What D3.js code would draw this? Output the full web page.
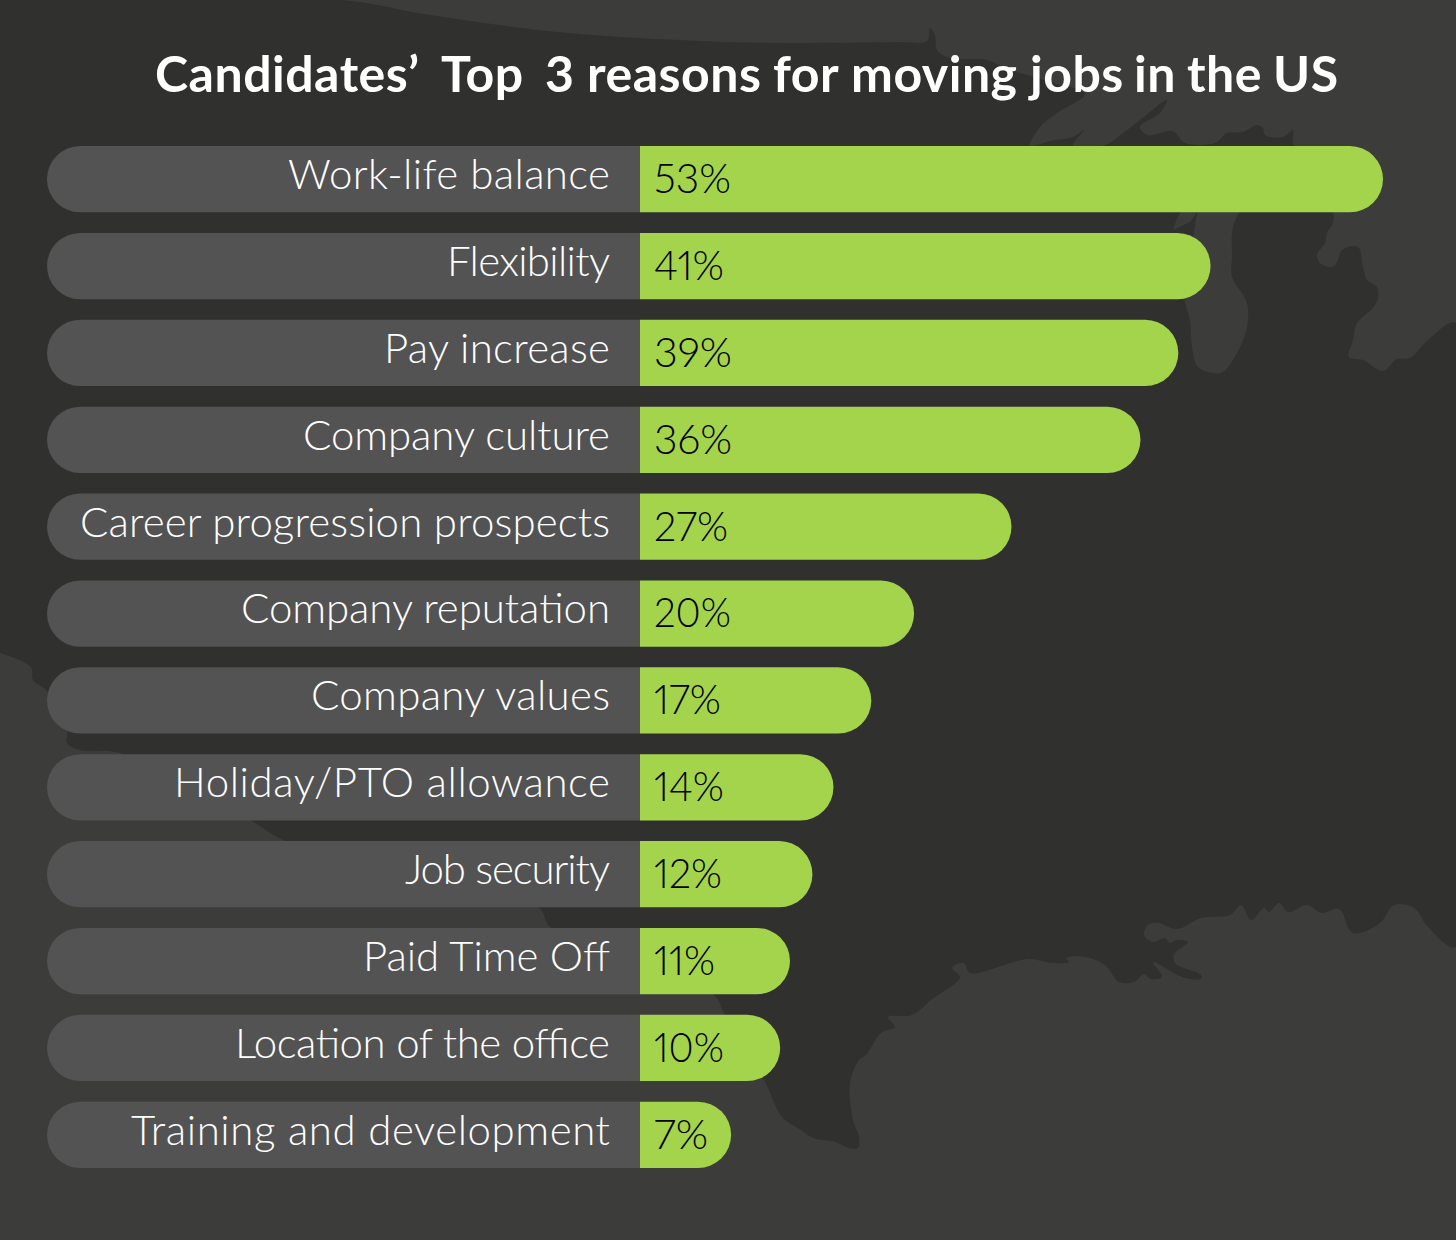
<!DOCTYPE html>
<html>
<head>
<meta charset="utf-8">
<style>
  body { margin: 0; background: #3c3c3b; }
  text { font-family: Lato, sans-serif; font-variant-numeric: proportional-nums; }
</style>
</head>
<body>
<div id="elm"></div>
<script src="https://d3js.org/d3.v7.min.js"></script>
<script>
'use strict';

var titleWords = ['Candidates’', 'Top', '3', 'reasons', 'for', 'moving', 'jobs', 'in', 'the', 'US'];
var reasons = ['Work-life balance', 'Flexibility', 'Pay increase', 'Company culture',
  'Career progression prospects', 'Company reputation', 'Company values',
  'Holiday/PTO allowance', 'Job security', 'Paid Time Off', 'Location of the office',
  'Training and development'];
var shareLabels = ['53%', '41%', '39%', '36%', '27%', '20%', '17%', '14%', '12%', '11%', '10%', '7%'];
// read off the length of each green bar, they are not quite the printed numbers
var shareValues = [53, 40.7, 38.4, 35.7, 26.5, 19.55, 16.5, 13.8, 12.3, 10.7, 10, 6.5];

// the original font is narrower or wider per word, so texts get fitted to these
var titleWordStarts = [155, 441, 545, 587, 773, 851, 1030, 1134, 1187, 1273];
var reasonWidths = [322, 163, 226, 307, 530, 369, 299, 436, 205, 247, 375, 479];
var shareWidths = [77, 70, 78, 78, 74, 77, 67, 70, 68, 61, 70, 54];

// map behind the chart, just decoration
var landOutline = [[0,0],[341,0],[418,13],[464,20],[557,32],[728,42],[900,42],[927,41],[930,28],[935,35],
  [937,50],[950,58],[987,60],[1003,67],[1020,73],[1050,82],[1085,94],[1057,113],[1040,127],[1030,146],
  [1050,141],[1073,137],[1084,130],[1073,146],[1103,146],[1127,130],[1167,100],[1160,113],[1140,127],
  [1148,135],[1173,131],[1185,143],[1215,143],[1227,133],[1243,132],[1257,125],[1263,128],[1265,135],
  [1283,137],[1293,130],[1293,143],[1297,150],[1333,212],[1333,223],[1327,233],[1325,243],[1317,255],
  [1320,263],[1332,267],[1337,262],[1342,250],[1358,247],[1363,267],[1367,280],[1377,287],[1378,298],
  [1373,308],[1357,323],[1353,340],[1349,357],[1363,360],[1383,371],[1397,359],[1410,358],[1430,338],
  [1456,323],[1456,947],[1428,927],[1414,908],[1394,905],[1380,923],[1353,933],[1339,909],[1322,913],
  [1307,905],[1288,912],[1279,903],[1269,912],[1264,908],[1251,920],[1241,905],[1230,915],[1201,918],
  [1177,929],[1158,923],[1148,925],[1144,935],[1153,942],[1165,938],[1170,943],[1177,940],[1188,942],
  [1175,953],[1175,963],[1201,975],[1201,979],[1182,977],[1153,962],[1162,977],[1151,979],[1144,974],
  [1134,982],[1119,982],[1105,965],[1086,957],[1066,958],[1069,962],[1052,963],[1028,959],[970,973],
  [964,963],[952,968],[960,977],[931,1000],[912,1015],[888,1017],[895,1027],[881,1033],[866,1055],
  [859,1060],[850,1083],[853,1120],[859,1137],[858,1148],[849,1148],[835,1142],[813,1138],[801,1130],
  [782,1117],[765,1082],[724,1013],[714,995],[551,928],[538,907],[286,841],[250,820],[120,753],[80,750],
  [67,743],[67,733],[47,691],[33,680],[31,667],[0,653]];
var lakeOutline = [[1199,205],[1194,232],[1185,300],[1190,320],[1192,347],[1198,367],[1213,373],[1223,372],
  [1237,353],[1247,327],[1247,303],[1232,277],[1232,257],[1233,227],[1243,205]];
var bayOutline = [[1173,230],[1183,210],[1197,210],[1190,222]];

var svg = d3.select('#elm').append('svg')
  .attr('width', 1456)
  .attr('height', 1240)
  .style('display', 'block');

var y = d3.scaleBand().domain(reasons).range([146, 1168]).paddingInner(0.236);
var x = d3.scaleLinear().domain([0, 53]).range([640, 1383]);

var h = y.bandwidth();
var r = h / 2;

svg.append('rect').attr('width', 1456).attr('height', 1240).attr('fill', '#3c3c3b');

var shape = d3.line().curve(d3.curveCatmullRom.alpha(0.5));
svg.append('path').attr('d', shape(landOutline) + 'Z').attr('fill', '#30302f');
svg.append('path').attr('d', shape(lakeOutline) + 'Z').attr('fill', '#3c3c3b');
svg.append('path').attr('d', shape(bayOutline) + 'Z').attr('fill', '#3c3c3b');

svg.append('text')
  .attr('y', 92)
  .attr('font-size', 50)
  .attr('font-weight', 700)
  .attr('letter-spacing', 0.5)
  .attr('fill', '#fff')
  .selectAll('tspan')
  .data(titleWords)
  .enter().append('tspan')
  .attr('x', function(d, i) { return titleWordStarts[i]; })
  .text(function(d) { return d; });

var rows = svg.selectAll('.row')
  .data(reasons)
  .enter().append('g')
  .attr('class', 'row')
  .attr('transform', function(d) { return 'translate(0,' + y(d) + ')'; });

// grey part is round on the left only, green part round on the right only
rows.append('path')
  .attr('fill', '#535353')
  .attr('d', function() {
    var p = d3.path();
    p.moveTo(x(0), 0);
    p.lineTo(47 + r, 0);
    p.arc(47 + r, r, r, -Math.PI / 2, Math.PI / 2, true);
    p.lineTo(x(0), h);
    p.closePath();
    return p.toString();
  });

rows.append('path')
  .attr('fill', '#a3d44c')
  .attr('d', function(d, i) {
    var end = x(shareValues[i]);
    var p = d3.path();
    p.moveTo(x(0), 0);
    p.lineTo(end - r, 0);
    p.arc(end - r, r, r, -Math.PI / 2, Math.PI / 2);
    p.lineTo(x(0), h);
    p.closePath();
    return p.toString();
  });

rows.append('text')
  .attr('x', function(d, i) { return 610 - reasonWidths[i]; })
  .attr('y', 43)
  .attr('font-size', 42)
  .attr('font-weight', 300)
  .attr('textLength', function(d, i) { return reasonWidths[i]; })
  .attr('lengthAdjust', 'spacing')
  .attr('fill', '#fff')
  .text(function(d) { return d; });

rows.append('text')
  .attr('x', 654)
  .attr('y', 47)
  .attr('font-size', 42)
  .attr('font-weight', 300)
  .attr('textLength', function(d, i) { return shareWidths[i]; })
  .attr('lengthAdjust', 'spacingAndGlyphs')
  .attr('fill', '#000')
  .text(function(d, i) { return shareLabels[i]; });
</script>
</body>
</html>
